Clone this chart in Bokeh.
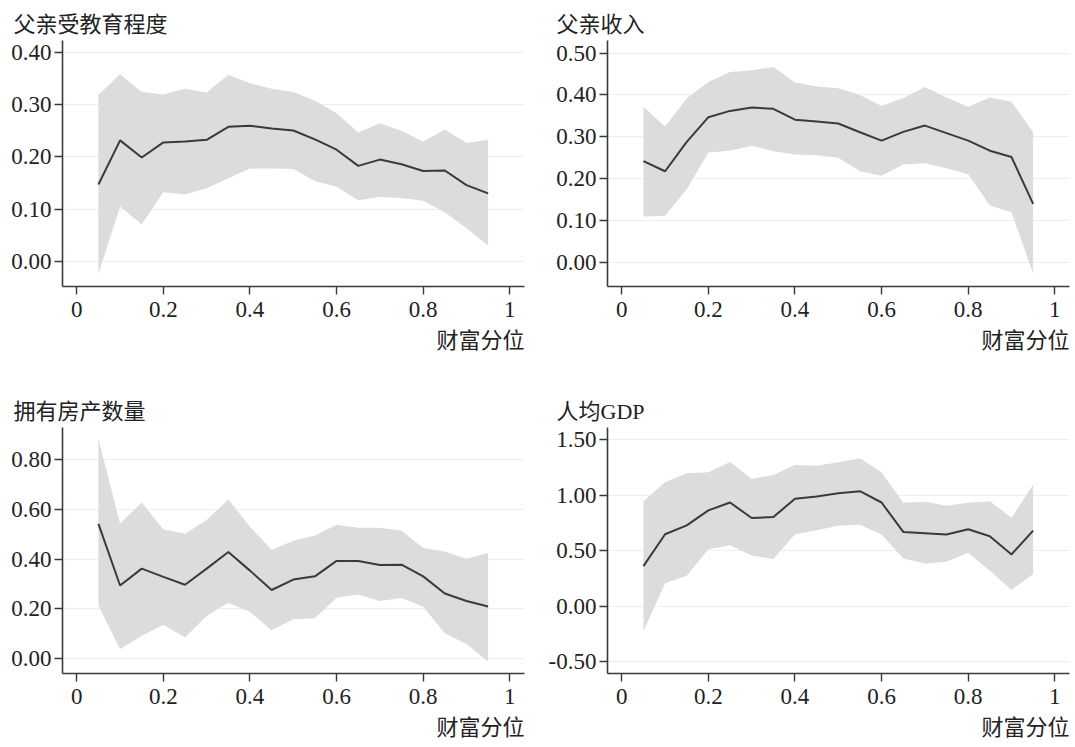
from bokeh.plotting import figure
from bokeh.layouts import column, row
from bokeh.models import FixedTicker, NumeralTickFormatter, Title, Range1d
from bokeh.embed import file_html
from bokeh.resources import INLINE

# ---------------- data ----------------
quantiles = [0.05, 0.10, 0.15, 0.20, 0.25, 0.30, 0.35, 0.40, 0.45, 0.50,
             0.55, 0.60, 0.65, 0.70, 0.75, 0.80, 0.85, 0.90, 0.95]

edu_mean = [0.147, 0.232, 0.199, 0.228, 0.230, 0.233, 0.258, 0.260, 0.255, 0.251,
            0.234, 0.214, 0.183, 0.195, 0.186, 0.173, 0.174, 0.146, 0.130]
edu_upper = [0.319, 0.359, 0.325, 0.320, 0.331, 0.324, 0.358, 0.342, 0.331, 0.325,
             0.308, 0.284, 0.247, 0.265, 0.250, 0.230, 0.253, 0.227, 0.233]
edu_lower = [-0.025, 0.105, 0.070, 0.132, 0.128, 0.140, 0.159, 0.178, 0.178, 0.177,
             0.154, 0.143, 0.117, 0.123, 0.121, 0.116, 0.094, 0.063, 0.030]

inc_mean = [0.242, 0.218, 0.288, 0.347, 0.362, 0.370, 0.367, 0.341, 0.337, 0.332,
            0.311, 0.291, 0.312, 0.327, 0.309, 0.291, 0.267, 0.252, 0.140]
inc_upper = [0.372, 0.325, 0.392, 0.431, 0.455, 0.459, 0.467, 0.430, 0.420, 0.416,
             0.400, 0.374, 0.392, 0.419, 0.394, 0.372, 0.394, 0.384, 0.311]
inc_lower = [0.110, 0.112, 0.175, 0.263, 0.267, 0.279, 0.266, 0.258, 0.256, 0.250,
             0.218, 0.207, 0.234, 0.237, 0.225, 0.211, 0.136, 0.120, -0.026]

house_mean = [0.542, 0.294, 0.362, 0.329, 0.297, 0.362, 0.429, 0.354, 0.276, 0.318,
              0.331, 0.393, 0.393, 0.377, 0.378, 0.331, 0.262, 0.232, 0.210]
house_upper = [0.884, 0.544, 0.628, 0.520, 0.502, 0.558, 0.640, 0.531, 0.438, 0.474,
               0.495, 0.539, 0.527, 0.527, 0.514, 0.445, 0.431, 0.402, 0.425]
house_lower = [0.214, 0.039, 0.092, 0.136, 0.085, 0.172, 0.225, 0.188, 0.114, 0.158,
               0.162, 0.245, 0.258, 0.232, 0.244, 0.209, 0.102, 0.059, -0.012]

gdp_mean = [0.361, 0.648, 0.728, 0.863, 0.934, 0.794, 0.803, 0.967, 0.988, 1.018,
            1.036, 0.934, 0.669, 0.657, 0.645, 0.693, 0.630, 0.466, 0.681]
gdp_upper = [0.946, 1.116, 1.197, 1.206, 1.299, 1.146, 1.182, 1.272, 1.266, 1.296,
             1.334, 1.206, 0.931, 0.940, 0.904, 0.931, 0.946, 0.797, 1.093]
gdp_lower = [-0.227, 0.206, 0.275, 0.513, 0.549, 0.457, 0.424, 0.648, 0.684, 0.725,
             0.734, 0.645, 0.430, 0.385, 0.400, 0.481, 0.319, 0.146, 0.290]

x_ticks = [0, 0.2, 0.4, 0.6, 0.8, 1]
edu_ticks = [0, 0.1, 0.2, 0.3, 0.4]
inc_ticks = [0, 0.1, 0.2, 0.3, 0.4, 0.5]
house_ticks = [0, 0.2, 0.4, 0.6, 0.8]
gdp_ticks = [-0.5, 0, 0.5, 1.0, 1.5]

titles = ["父亲受教育程度", "父亲收入", "拥有房产数量", "人均GDP"]
x_label = "财富分位"

# ---------------- styling ----------------
NUM_FONT = "Liberation Serif"
TITLE_FONT = "'Liberation Serif', 'Noto Sans CJK SC'"
CJK_FONT = "Noto Sans CJK SC"
AXIS_COLOR = "#3a3a3a"
TEXT_COLOR = "#222222"
BAND_COLOR = "#dcdcde"
LINE_COLOR = "#3a3a3a"
GRID_COLOR = "#eeeeee"


def make_panel(title, mean, lower, upper, yticks, yrange, left_col, top_row):
    p = figure(
        frame_width=462, frame_height=246,
        x_range=Range1d(-0.033, 1.034), y_range=Range1d(*yrange),
        output_backend="svg", toolbar_location=None,
        min_border_left=62,
        min_border_right=21 if left_col else 3,
        min_border_top=40 if top_row else 67,
        min_border_bottom=74 if top_row else 62,
    )
    p.outline_line_color = None
    p.background_fill_color = "white"
    p.border_fill_color = "white"

    p.varea(x=quantiles, y1=lower, y2=upper, fill_color=BAND_COLOR, fill_alpha=1.0)
    p.line(x=quantiles, y=mean, line_color=LINE_COLOR, line_width=2)

    for ax in (p.xaxis[0], p.yaxis[0]):
        ax.axis_line_color = AXIS_COLOR
        ax.axis_line_width = 1.6
        ax.major_tick_line_color = AXIS_COLOR
        ax.major_tick_line_width = 1.4
        ax.major_tick_in = 0
        ax.major_tick_out = 8
        ax.minor_tick_line_color = None
        ax.major_label_text_font = NUM_FONT
        ax.major_label_text_font_size = "23px"
        ax.major_label_text_color = TEXT_COLOR
    p.xaxis.ticker = FixedTicker(ticks=x_ticks)
    p.xaxis.formatter = NumeralTickFormatter(format="0.[0]")
    p.xaxis.major_label_standoff = 7
    p.yaxis.ticker = FixedTicker(ticks=yticks)
    p.yaxis.formatter = NumeralTickFormatter(format="0.00")
    p.yaxis.major_label_standoff = 3

    p.xgrid.grid_line_color = None
    p.ygrid.grid_line_color = GRID_COLOR
    p.ygrid.grid_line_width = 1.2

    p.title = Title(text=title, align="left", offset=-49 if left_col else -51,
                    text_font=TITLE_FONT, text_font_size="22px",
                    text_font_style="normal", text_color=TEXT_COLOR,
                    standoff=8)
    p.add_layout(Title(text=x_label, align="right", text_font=CJK_FONT,
                       text_font_size="22px", text_font_style="normal",
                       text_color=TEXT_COLOR, standoff=0), "below")
    return p


p1 = make_panel(titles[0], edu_mean, edu_lower, edu_upper, edu_ticks, (-0.049, 0.424), True, True)
p2 = make_panel(titles[1], inc_mean, inc_lower, inc_upper, inc_ticks, (-0.057, 0.530), False, True)
p3 = make_panel(titles[2], house_mean, house_lower, house_upper, house_ticks, (-0.06, 0.93), True, False)
p4 = make_panel(titles[3], gdp_mean, gdp_lower, gdp_upper, gdp_ticks, (-0.607, 1.61), False, False)

layout = column(row(p1, p2), row(p3, p4))

open("out.html", "w").write(file_html(layout, INLINE))
